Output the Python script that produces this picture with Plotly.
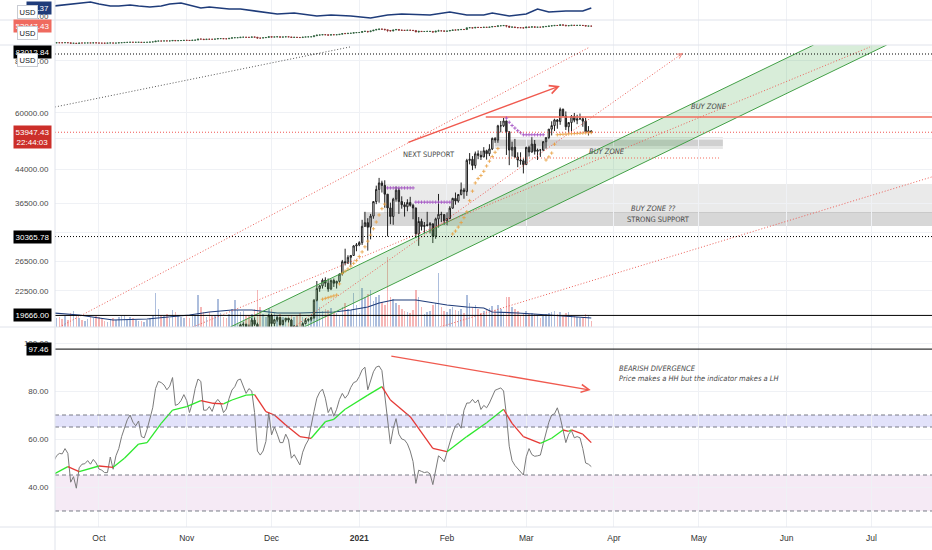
import numpy as np
import pandas as pd
import plotly.graph_objects as go

# BTCUSD daily candles, 15 Sep 2020 .. 24 Mar 2021 (one row per month)
opens = [
    10680, 10785, 10955, 10945, 10935, 11080, 10920, 10420, 10535, 10245, 10735, 10690, 10725, 10775, 10710, 10845,
    10785, 10620, 10575, 10550, 10670, 10790, 10600, 10670, 10925, 11055, 11300, 11380, 11545, 11425, 11430, 11505, 11320, 11365, 11500, 11750, 11915, 12825, 12970, 12930, 13110, 13030, 13075, 13650, 13275, 13460, 13560,
    13800, 13760, 13550, 14030, 14150, 15590, 15580, 14830, 15480, 15330, 15300, 15700, 16290, 16330, 16070, 15960, 16730, 17650, 17800, 17820, 18680, 18720, 18420, 18370, 19160, 18720, 17150, 17140, 17720, 18180,
    19625, 18800, 19200, 19450, 18700, 19150, 19360, 19170, 18320, 18550, 18250, 18040, 18800, 19140, 19250, 19430, 21380, 22800, 23150, 23870, 23480, 22750, 23840, 23480, 23730, 24700, 26440, 26270, 27080, 27360, 28840,
    29000, 29370, 32130, 32780, 31970, 33990, 36820, 39370, 40800, 40250, 38350, 35560, 33920, 37320, 39190, 36830, 36180, 35790, 36630, 36070, 35550, 30820, 33000, 32100, 32280, 32370, 32570, 30430, 33470, 34320, 34270,
    33110, 33520, 35510, 37470, 36930, 38290, 39270, 38900, 46200, 46480, 44920, 47910, 47500, 47100, 48720, 47940, 49200, 52150, 51680, 55890, 55900, 57410, 54090, 48890, 49680, 47070, 46280, 46100,
    45140, 49630, 48380, 50540, 48560, 48930, 48910, 51210, 52380, 54880, 55960, 57750, 57230, 61190, 59000, 55600, 56900, 58910, 57650, 58030, 58100, 57350, 54080, 54340,
]
highs = [
    10940, 11100, 11030, 11040, 11170, 11080, 10990, 10570, 10560, 10780, 10760, 10770, 10800, 10950, 10860, 10850,
    10920, 10660, 10600, 10700, 10800, 10800, 10700, 10960, 11110, 11480, 11430, 11700, 11560, 11560, 11620, 11540, 11400, 11500, 11800, 12000, 13200, 13180, 13020, 13150, 13320, 13240, 13780, 13850, 13620, 13620, 14070,
    13860, 13810, 14060, 14250, 15750, 15960, 15760, 15650, 15800, 15450, 15950, 16350, 16460, 16330, 16120, 16800, 17840, 18390, 18100, 18780, 18940, 18800, 18700, 19390, 19450, 18900, 17420, 17850, 18330, 19800,
    19850, 19280, 19560, 19500, 19170, 19400, 19400, 19290, 18630, 18550, 18270, 18930, 19380, 19330, 19550, 21510, 23770, 23250, 24100, 24260, 24100, 23990, 24100, 23800, 24760, 26700, 28400, 27400, 27400, 28960, 29300,
    29600, 33300, 34800, 33600, 34400, 36900, 40200, 41950, 41300, 41400, 38300, 36600, 37600, 40000, 39700, 37900, 36700, 37300, 37800, 36400, 35600, 33800, 33500, 32900, 34800, 32900, 32600, 33700, 38400, 34800, 34300,
    34700, 35900, 37600, 38700, 38300, 40900, 39700, 46600, 48100, 47300, 48500, 48800, 48700, 49700, 49000, 50500, 52400, 52500, 56200, 57400, 58350, 57500, 54200, 51200, 52000, 48300, 48300, 46700,
    49800, 50100, 52500, 51700, 49300, 49200, 51400, 52400, 54900, 57300, 58100, 58000, 61800, 61500, 60500, 57000, 59300, 60000, 59400, 59800, 58500, 58400, 55800, 54500,
]
lows = [
    10630, 10680, 10760, 10820, 10900, 10800, 10370, 10380, 10200, 10200, 10580, 10650, 10650, 10650, 10660, 10700,
    10540, 10400, 10500, 10520, 10630, 10540, 10580, 10630, 10830, 11050, 11280, 11200, 11300, 11280, 11260, 11220, 11300, 11350, 11420, 11700, 11900, 12700, 12720, 12880, 12900, 12800, 13050, 13050, 12950, 13140, 13450,
    13620, 13240, 13290, 13550, 14100, 15200, 14400, 14720, 14850, 15100, 15270, 15460, 15990, 15760, 15800, 15880, 16620, 17350, 17370, 17750, 18350, 17800, 18000, 18050, 18550, 16200, 16500, 16900, 17520, 18180,
    18330, 18520, 19000, 18600, 18630, 18940, 18920, 18230, 17650, 17960, 17600, 18000, 18730, 19000, 19050, 19300, 21250, 22400, 22800, 23000, 22400, 22600, 23000, 22800, 23500, 24500, 25900, 26100, 25900, 27350, 28000,
    28800, 29000, 32000, 28100, 29900, 33500, 36300, 36600, 38700, 35600, 30400, 32500, 32400, 36800, 34400, 35400, 33900, 34900, 35800, 33400, 30100, 28850, 31400, 30900, 32100, 30900, 29300, 30000, 31900, 32900, 32400,
    32300, 33400, 35400, 36200, 36600, 38100, 37400, 38000, 45200, 43800, 44200, 46500, 46300, 47000, 46400, 47300, 48900, 50900, 50900, 53900, 55500, 47600, 45000, 47200, 46800, 44500, 45100, 43000,
    45100, 47200, 48200, 47700, 46300, 47100, 48600, 49300, 51900, 53000, 54300, 55000, 56200, 58900, 54600, 53600, 54200, 57000, 56400, 57900, 55600, 53800, 53000, 53650,
]
closes = [
    10785, 10955, 10945, 10935, 11080, 10920, 10420, 10535, 10245, 10735, 10690, 10725, 10775, 10710, 10845, 10785,
    10620, 10575, 10550, 10670, 10790, 10600, 10670, 10925, 11055, 11300, 11380, 11545, 11425, 11430, 11505, 11320, 11365, 11500, 11750, 11915, 12825, 12970, 12930, 13110, 13030, 13075, 13650, 13275, 13460, 13560, 13800,
    13760, 13550, 14030, 14150, 15590, 15580, 14830, 15480, 15330, 15300, 15700, 16290, 16330, 16070, 15960, 16730, 17650, 17800, 17820, 18680, 18720, 18420, 18370, 19160, 18720, 17150, 17140, 17720, 18180, 19625,
    18800, 19200, 19450, 18700, 19150, 19360, 19170, 18320, 18550, 18250, 18040, 18800, 19140, 19250, 19430, 21380, 22800, 23150, 23870, 23480, 22750, 23840, 23480, 23730, 24700, 26440, 26270, 27080, 27360, 28840, 29000,
    29370, 32130, 32780, 31970, 33990, 36820, 39370, 40800, 40250, 38350, 35560, 33920, 37320, 39190, 36830, 36180, 35790, 36630, 36070, 35550, 30820, 33000, 32100, 32280, 32370, 32570, 30430, 33470, 34320, 34270, 33110,
    33520, 35510, 37470, 36930, 38290, 39270, 38900, 46200, 46480, 44920, 47910, 47500, 47100, 48720, 47940, 49200, 52150, 51680, 55890, 55900, 57410, 54090, 48890, 49680, 47070, 46280, 46100, 45140,
    49630, 48380, 50540, 48560, 48930, 48910, 51210, 52380, 54880, 55960, 57750, 57230, 61190, 59000, 55600, 56900, 58910, 57650, 58030, 58100, 57350, 54080, 54340, 53947.43,
]
volume = [
    12, 9, 10, 8, 11, 7, 14, 16, 12, 9, 7, 6, 8, 10, 9, 11,
    10, 9, 6, 5, 8, 9, 7, 10, 11, 12, 8, 10, 9, 7, 6, 6, 5, 7, 9, 12, 34, 18, 12, 11, 13, 9, 17, 15, 12, 10, 9,
    11, 9, 13, 12, 32, 20, 15, 10, 15, 11, 12, 28, 14, 10, 9, 13, 18, 27, 17, 15, 16, 11, 12, 13, 18, 37, 20, 13, 10, 19,
    18, 14, 11, 13, 10, 9, 11, 12, 10, 11, 14, 10, 9, 8, 10, 22, 30, 20, 16, 18, 17, 19, 15, 14, 11, 20, 24, 18, 17, 34, 22,
    14, 39, 30, 33, 37, 26, 30, 32, 25, 22, 70, 30, 28, 24, 22, 18, 16, 15, 14, 17, 37, 30, 20, 13, 15, 16, 22, 24, 54, 20, 16,
    15, 18, 20, 17, 16, 18, 14, 32, 24, 20, 22, 18, 14, 16, 18, 19, 21, 17, 22, 18, 14, 30, 30, 20, 18, 16, 12, 14,
    16, 13, 14, 13, 12, 9, 11, 13, 14, 15, 16, 13, 15, 11, 14, 15, 12, 11, 10, 9, 10, 13, 12, 6,
]
rsi = [
    50.6, 53, 54, 53.8, 56, 54, 42, 44.3, 39.5, 48, 49.5, 49.7, 51, 49.5, 51.5, 50,
    47.5, 47, 46, 46, 52.5, 47.4, 53, 56, 61, 65, 68, 70, 67, 65.5, 67.5, 61, 60.5, 64, 69, 73, 81, 84, 83.5, 82.5, 80.5, 82, 85.6, 74, 74.5, 76, 78.5,
    76, 71, 75, 81, 85, 84, 72, 72, 73.5, 71.5, 75, 76.5, 75, 71, 72.5, 77, 80.4, 81.8, 84.5, 85, 82, 79, 81, 80, 71, 55, 53.3, 55, 59, 71,
    61.7, 65, 62, 58.5, 58.5, 62, 59.6, 52, 53.5, 51, 49.2, 54.5, 57.5, 59.6, 66, 71.5, 77, 79.5, 80.8, 77, 71, 73.2, 69.5, 72.4, 76.5, 79, 77, 78.5, 81.5, 83.5, 84,
    86, 88.8, 89.9, 80.5, 84, 88, 90, 90.4, 88.5, 78.3, 67, 57.9, 64.4, 68.5, 62, 60, 59.6, 58, 55, 50.6, 41.5, 47, 46.5, 46, 46.3, 45.5, 41, 47.5, 53, 52, 50.5,
    54.5, 59, 62.5, 65.5, 66.5, 64.5, 72, 75, 75, 76.5, 75, 76.3, 72.3, 74, 73, 75, 77.5, 80.3, 80.8, 81.3, 80, 70, 57, 51, 49, 47.8, 46.5, 45,
    52.6, 56, 53.5, 52.8, 53, 53.3, 58, 62.5, 67, 70, 70.5, 73, 69, 63.8, 58.5, 62, 63.5, 60.5, 61, 60.5, 56, 50, 49.5, 48.5,
]

# smoothed lines, (day from 15 Sep, value)
vol_ma_day = [0, 9, 16, 21, 33, 42, 48, 55, 63, 70, 79, 87, 99, 105, 111, 115, 120, 128, 134, 139, 146, 152, 155, 164, 175, 190]
vol_ma = [14, 12, 9, 7, 8, 10, 12, 15, 17, 17, 14, 14, 15, 17, 20, 24, 27, 27, 24, 22, 20, 19, 15, 14, 12, 9]
rsi_ma_day = [0, 5, 9, 16, 21, 25, 30, 33, 38, 42, 47, 52, 56, 60, 63, 68, 71, 75, 78, 82, 87, 91, 96, 99, 103, 111, 116, 119, 126, 134, 139, 146, 153, 159, 162, 166, 172, 176, 180, 182, 183, 187, 190]
rsi_ma = [45.3, 48.5, 46.4, 48.75, 48.2, 52, 57.9, 58.5, 66.5, 72, 73.5, 76, 74.9, 74.6, 76.25, 78.3, 78.5, 71.4, 70, 65.8, 61, 60.3, 67.2, 68.2, 72.4, 78.3, 81.8, 76.25, 69.3, 56.1, 54.7, 61, 66.8, 72.4, 66.5, 61, 58.2, 60.3, 63.75, 63.2, 63.8, 62, 58.5]
dxy_day = [0, 4, 9, 13, 16, 20, 23, 27, 30, 34, 38, 41, 45, 48, 52, 55, 59, 62, 66, 69, 75, 79, 85, 93, 98, 105, 112, 118, 123, 133, 140, 146, 152, 155, 161, 167, 171, 175, 181, 187, 190]
dxy = [93.56, 93.91, 94.60, 94.95, 94.25, 93.56, 93.56, 93.91, 93.56, 93.21, 93.56, 94.25, 94.60, 93.91, 92.86, 93.21, 92.86, 92.52, 92.52, 92.17, 91.47, 90.78, 91.13, 90.09, 90.43, 90.09, 89.39, 90.43, 90.78, 90.43, 91.47, 90.43, 90.43, 91.13, 90.09, 90.78, 92.52, 91.47, 91.82, 91.82, 92.86]

# stop dots above / below the candles
sar_up_day = list(range(95, 118)) + list(range(141, 158)) + list(range(174, 191))
sar_up = [21500, 21600, 21700, 21800, 21900, 22000, 23400, 24800, 25100, 25400, 25800, 26200, 26600, 27200, 27900, 28700, 29600, 30600, 31700, 32900, 34200, 35400, 36300,
          30800, 31300, 32000, 32800, 33700, 34800, 37000, 39000, 40800, 41800, 42500, 43500, 44800, 46000, 47200, 48300, 49300,
          46300, 47100, 48100, 50500, 53200, 53300, 53350, 53400, 53450, 53500, 53550, 53600, 53650, 53700, 53750, 53800, 53850]
sar_dn_day = list(range(118, 141)) + list(range(160, 174))
sar_dn = [39700] * 10 + [36700] * 13 + [58300, 57000, 56000, 55200, 54400, 53800] + [53200] * 8

month_ticks = ["2020-10-01", "2020-11-01", "2020-12-01", "2021-01-01", "2021-02-01", "2021-03-01",
               "2021-04-01", "2021-05-01", "2021-06-01", "2021-07-01"]
month_text = ["Oct", "Nov", "Dec", "<b>2021</b>", "Feb", "Mar", "Apr", "May", "Jun", "Jul"]
price_ticks = [22500, 26500, 31000, 36500, 44000, 52000, 60000, 80000]
price_text = ["22500.00", "26500.00", "", "36500.00", "44000.00", "", "60000.00", "80000.00"]

# drawings (date, price)
pink_lines = [
    (("2020-09-17", 18450), ("2021-03-23 12:00", 86300)),
    (("2020-12-08 21:00", 18450), ("2021-04-25 10:00", 83470)),
    (("2020-11-03 05:00", 18450), ("2021-06-30 12:00", 86300)),
    (("2021-01-29 12:00", 18450), ("2021-07-22 07:00", 42160)),
]
gray_line = (("2020-09-15 11:00", 62000), ("2020-12-28 17:00", 86300))
channel_x = ["2020-11-16 10:00", "2021-06-10 14:00", "2021-07-06 10:00", "2020-12-12 12:00"]
channel_y = [18450, 87240, 87240, 18450]

last_price = 53947.43
X_END = "2021-07-22 10:00"
FINE = "1px,2px"

dates = pd.date_range("2020-09-15", periods=len(closes), freq="D")


def on(d):
    return dates[0] + pd.Timedelta(days=d)


PX = lambda y: (527 - y) / 527  # paper y from pixel row
LBL_X = -28 / 877

fig = go.Figure()

# volume (base axis of the price pane)
vol_colors = ['rgba(60,100,175,0.42)' if c >= o else 'rgba(232,80,80,0.42)' for o, c in zip(opens, closes)]
fig.add_trace(go.Bar(x=dates, y=volume, marker_color=vol_colors, marker_line_width=0,
                     width=0.55 * 86400000, yaxis='y'))
fig.add_trace(go.Scatter(x=[on(d) for d in vol_ma_day], y=vol_ma, mode='lines',
                         line=dict(color='#1f3c7a', width=1.2), yaxis='y'))

# green parallel channel
fig.add_trace(go.Scatter(x=channel_x, y=channel_y, fill='toself', fillcolor='rgba(76,175,80,0.22)',
                         mode='none', yaxis='y2'))
for i, j in [(0, 1), (3, 2)]:
    fig.add_trace(go.Scatter(x=[channel_x[i], channel_x[j]], y=[channel_y[i], channel_y[j]], mode='lines',
                             line=dict(color='#43a047', width=1), yaxis='y2'))

for (x0, y0), (x1, y1) in pink_lines:
    fig.add_trace(go.Scatter(x=[x0, x1], y=[y0, y1], mode='lines',
                             line=dict(color='#ec5f58', width=1, dash=FINE), yaxis='y2'))
fig.add_trace(go.Scatter(x=[gray_line[0][0], gray_line[1][0]], y=[gray_line[0][1], gray_line[1][1]], mode='lines',
                         line=dict(color='#555', width=1, dash=FINE), yaxis='y2'))

# resistance / support lines
fig.add_trace(go.Scatter(x=["2021-02-14 17:00", X_END], y=[58670, 58670], mode='lines',
                         line=dict(color='#f26b5b', width=1.6), yaxis='y2'))
fig.add_trace(go.Scatter(x=["2021-02-16 05:00", "2021-05-08 10:00"], y=[46810, 46810], mode='lines',
                         line=dict(color='#f26b5b', width=1, dash=FINE), yaxis='y2'))

fig.add_trace(go.Scatter(x=[on(d) for d in sar_up_day], y=sar_up, mode='markers', yaxis='y2',
                         marker=dict(symbol='cross-thin', size=2.5, line=dict(width=0.8, color='#e8a040'))))
fig.add_trace(go.Scatter(x=[on(d) for d in sar_dn_day], y=sar_dn, mode='markers', yaxis='y2',
                         marker=dict(symbol='cross-thin', size=2.5, line=dict(width=0.8, color='#a04ac0'))))

fig.add_trace(go.Candlestick(x=dates, open=opens, high=highs, low=lows, close=closes, yaxis='y2',
                             increasing=dict(line=dict(color='#222', width=1), fillcolor='#ffffff'),
                             decreasing=dict(line=dict(color='#222', width=1), fillcolor='#3a3a3a'),
                             whiskerwidth=0))

# mini price pane
fig.add_trace(go.Candlestick(x=dates, open=opens, high=highs, low=lows, close=closes, yaxis='y3',
                             increasing=dict(line=dict(color='#2b5e3a', width=0.7), fillcolor='#2b5e3a'),
                             decreasing=dict(line=dict(color='#8a2b2b', width=0.7), fillcolor='#8a2b2b'),
                             whiskerwidth=0))

# top pane line
fig.add_trace(go.Scatter(x=[on(d) for d in dxy_day], y=dxy, mode='lines',
                         line=dict(color='#1f3c7a', width=1.6), yaxis='y4'))

# RSI pane
fig.add_trace(go.Scatter(x=dates, y=rsi, mode='lines', line=dict(color='#7a7a7a', width=1), yaxis='y5'))
gx, gy, rx, ry = [], [], [], []
for k in range(len(rsi_ma) - 1):
    seg_x = [on(rsi_ma_day[k]), on(rsi_ma_day[k + 1]), None]
    seg_y = [rsi_ma[k], rsi_ma[k + 1], None]
    if rsi_ma[k + 1] >= rsi_ma[k]:
        gx += seg_x
        gy += seg_y
    else:
        rx += seg_x
        ry += seg_y
fig.add_trace(go.Scatter(x=gx, y=gy, mode='lines', line=dict(color='#2ee82e', width=1.3), yaxis='y5'))
fig.add_trace(go.Scatter(x=rx, y=ry, mode='lines', line=dict(color='#e53935', width=1.3), yaxis='y5'))

shapes = []
# zones
zones = [
    ("2021-01-09 17:00", X_END, 34580, 40560, 'rgba(160,160,160,0.22)'),
    ("2021-01-02 14:00", X_END, 32190, 34780, 'rgba(140,140,140,0.35)'),
    ("2021-02-17 22:00", "2021-05-09 12:00", 49190, 52550, 'rgba(160,160,160,0.25)'),
    ("2021-02-17 22:00", "2021-05-09 12:00", 50020, 51690, 'rgba(140,140,140,0.25)'),
]
for x0, x1, y0, y1, col in zones:
    shapes.append(dict(type='rect', xref='x', yref='y2', x0=x0, x1=x1, y0=y0, y1=y1,
                       fillcolor=col, line=dict(width=0), layer='below'))
# horizontal price lines
for val, col, dash in [(83012.84, '#000', FINE), (30365.78, '#000', FINE), (19666, '#000', 'solid'),
                       (last_price, '#ef5350', FINE)]:
    shapes.append(dict(type='line', xref='paper', yref='y2', x0=0, x1=1, y0=val, y1=val,
                       line=dict(color=col, width=1, dash=dash)))
# RSI bands
shapes.append(dict(type='rect', xref='paper', yref='y5', x0=0, x1=1, y0=65, y1=70,
                   fillcolor='#e2e2fa', line=dict(width=0), layer='below'))
shapes.append(dict(type='rect', xref='paper', yref='y5', x0=0, x1=1, y0=30, y1=45,
                   fillcolor='#f5eaf5', line=dict(width=0), layer='below'))
for lv in [30, 45, 65, 70]:
    shapes.append(dict(type='line', xref='paper', yref='y5', x0=0, x1=1, y0=lv, y1=lv,
                       line=dict(color='#787b86', width=1, dash='4px,3px')))
shapes.append(dict(type='line', xref='paper', yref='y5', x0=0, x1=1, y0=97.46, y1=97.46,
                   line=dict(color='#000', width=1)))
# pane separators
for yp in [20, 45, 327, 527]:
    shapes.append(dict(type='line', xref='paper', yref='paper', x0=-55 / 877, x1=1, y0=PX(yp), y1=PX(yp),
                       line=dict(color='#e0e3eb', width=1)))
shapes.append(dict(type='line', xref='paper', yref='paper', x0=0, x1=0, y0=PX(550), y1=1,
                   line=dict(color='#e0e3eb', width=1)))

TXT = dict(family='Liberation Sans Narrow, DejaVu Sans Condensed, Liberation Sans, sans-serif', size=7.5, color='#4a4a4a')
annotations = []


def note(text, x, y, yref='y2', **kw):
    yy = np.log10(y) if yref == 'y2' else y
    d = dict(text=text, x=x, y=yy, xref='x', yref=yref, showarrow=False, font=TXT)
    d.update(kw)
    annotations.append(d)


note("NEXT SUPPORT", "2021-01-25 14:00", 47850)
note("<i>BUY ZONE</i>", "2021-03-29 12:00", 48650)
note("<i>BUY ZONE</i>", "2021-05-04 14:00", 62000)
note("<i>BUY ZONE ??</i>", "2021-04-15 02:00", 35540)
note("STRONG SUPPORT", "2021-04-16 22:00", 33450)
note("<i>BEARISH DIVERGENCE<br>Price makes a HH but the indicator makes a LH</i>", "2021-04-02", 87.1,
     yref='y5', xanchor='left', align='left')

# arrows
annotations.append(dict(x="2021-03-12 22:00", y=np.log10(69600), ax="2021-01-17 19:00", ay=np.log10(50840),
                        xref='x', yref='y2', axref='x', ayref='y2', text='', showarrow=True,
                        arrowhead=5, arrowsize=1.2, arrowwidth=1.4, arrowcolor='#f05a4f'))
annotations.append(dict(x="2021-04-25 10:00", y=np.log10(83470), ax=-6, ay=4, xref='x', yref='y2',
                        text='', showarrow=True, arrowhead=5, arrowsize=1, arrowwidth=1, arrowcolor='#f28b82'))
annotations.append(dict(x="2021-03-23 19:00", y=80.4, ax="2021-01-11 19:00", ay=94.6,
                        xref='x', yref='y5', axref='x', ayref='y5', text='', showarrow=True,
                        arrowhead=5, arrowsize=1.2, arrowwidth=1.3, arrowcolor='#f05a4f'))

LF = dict(family='Liberation Sans, Arial, sans-serif', size=8, color='white')


def axis_label(text, yref, y, bg, **kw):
    d = dict(text=text, x=0, xref='paper', xanchor='right', xshift=-3, y=y, yref=yref, yanchor='middle',
             showarrow=False, bgcolor=bg, borderpad=1.5, font=LF)
    d.update(kw)
    annotations.append(d)


axis_label("92.37", 'y4', dxy[-1], '#1f3c7a')
axis_label(f"{last_price:.2f}", 'y3', np.log10(last_price), '#ef6a5f')
axis_label("83012.84", 'y2', np.log10(83012.84), '#000000', yshift=2)
axis_label(f"{last_price:.2f}<br>22:44:03", 'y2', np.log10(last_price), '#cc2f2a', yanchor='top', yshift=7)
axis_label("30365.78", 'y2', np.log10(30365.78), '#000000')
axis_label("19666.00", 'y2', np.log10(19666.00), '#000000')
axis_label("97.46", 'y5', 97.46, '#000000')
for yb in [12.5, 33, 59.5]:
    annotations.append(dict(text="USD", x=LBL_X, y=PX(yb), xref='paper', yref='paper', showarrow=False,
                            xanchor='center', yanchor='middle',
                            bgcolor='white', bordercolor='#c9ccd3', borderwidth=1, borderpad=1.5,
                            font=dict(family='Liberation Sans, Arial, sans-serif', size=7.5, color='#131722')))

TF = dict(family='Liberation Sans, Arial, sans-serif', size=8, color='#4a4a4a')
GRID = '#eff1f5'
fig.update_layout(
    width=932, height=550, margin=dict(l=55, r=0, t=0, b=23),
    plot_bgcolor='white', paper_bgcolor='white', showlegend=False, hovermode=False,
    shapes=shapes, annotations=annotations, bargap=0,
    xaxis=dict(type='date', range=["2020-09-15 11:00", X_END], anchor='y5', tickvals=month_ticks,
               ticktext=month_text, showgrid=True, gridcolor=GRID, zeroline=False, ticks='',
               ticklabelstandoff=4,
               tickfont=dict(family='Liberation Sans, Arial, sans-serif', size=8.5, color='#333'),
               rangeslider=dict(visible=False)),
    yaxis=dict(domain=[PX(327), PX(45)], range=[0, 282], visible=False, fixedrange=True),
    yaxis2=dict(overlaying='y', type='log', range=[4.2660, 4.9407], side='left',
                tickvals=price_ticks, ticktext=price_text, showgrid=True, gridcolor=GRID, zeroline=False,
                ticks='outside', ticklen=4, tickcolor='rgba(0,0,0,0)', tickfont=TF),
    yaxis3=dict(domain=[PX(45), PX(20)], type='log', range=[3.946, 4.987], showticklabels=False,
                showgrid=False, zeroline=False),
    yaxis4=dict(domain=[PX(20), 1], range=[88.70, 95.64], tickvals=[90], ticktext=["90.00"],
                showgrid=False, zeroline=False, ticks='outside', ticklen=4, tickcolor='rgba(0,0,0,0)', tickfont=TF),
    yaxis5=dict(domain=[0, PX(327)], range=[23.33, 106.67], tickvals=[40, 60, 80, 100],
                ticktext=["40.00", "60.00", "80.00", "100.00"], showgrid=True, gridcolor=GRID, zeroline=False,
                ticks='outside', ticklen=4, tickcolor='rgba(0,0,0,0)', tickfont=TF),
)

fig.write_html("out.html", config={'displayModeBar': False},
               post_script="document.body.style.margin='0';")
